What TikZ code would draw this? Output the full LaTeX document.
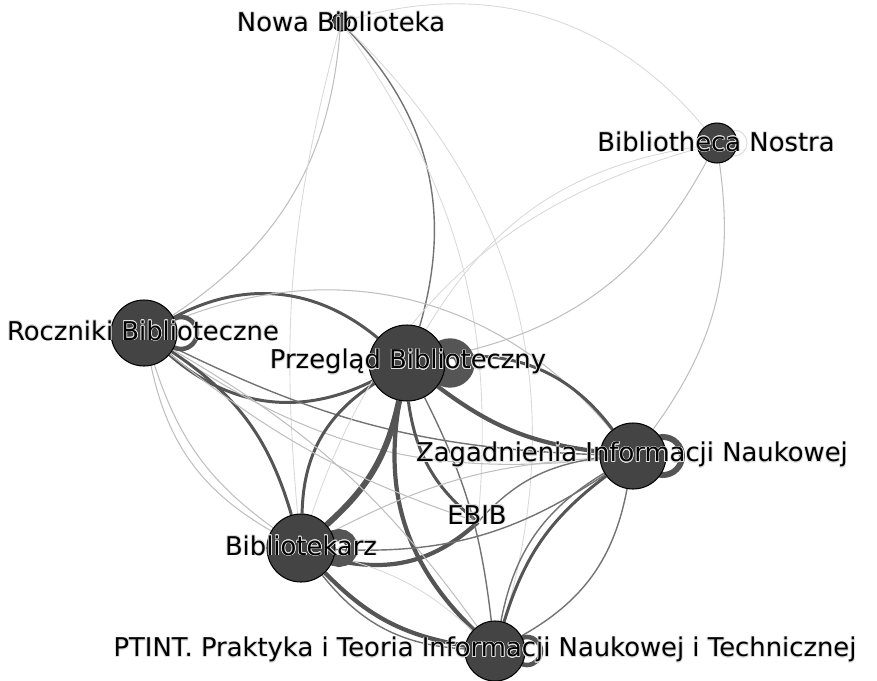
\documentclass[tikz,border=0pt]{standalone}
\usepackage{fontspec}
\setmainfont{DejaVu Sans}
\usepackage{contour}
\contourlength{0.2pt}
\definecolor{nodegray}{HTML}{444444}
\definecolor{edgegray}{HTML}{555555}
\pgfdeclarelayer{bg}
\pgfsetlayers{bg,main}
\tikzset{
  vertex/.style={circle, fill=nodegray, draw=black, line width=0.3pt, inner sep=0pt},
  lbl/.style={font=\fontsize{7.35}{8.5}\selectfont, inner sep=0pt, text=black},
  e1/.style={draw=gray!30, line width=0.25pt},
  e2/.style={draw=gray!50, line width=0.3pt},
  e3/.style={draw=black!55, line width=0.4pt},
  e4/.style={draw=edgegray, line width=0.85pt},
  e5/.style={draw=edgegray, line width=1.2pt},
  e6/.style={draw=edgegray, line width=1.7pt},
  loopring/.style={draw=edgegray}
}

\begin{document}
\begin{tikzpicture}
  \useasboundingbox (0,0) rectangle (8.77,6.80);
  % journals
  \node[vertex, minimum size=0.18cm] (nb) at (3.41,6.58) {};
  \node[vertex, minimum size=0.40cm] (bn) at (7.17,5.37) {};
  \node[vertex, minimum size=0.66cm] (rb) at (1.44,3.47) {};
  \node[vertex, minimum size=0.76cm] (pb) at (4.07,3.17) {};
  \node[vertex, minimum size=0.66cm] (zin) at (6.33,2.24) {};
  \coordinate (ebib) at (4.78,1.58);
  \node[vertex, minimum size=0.68cm] (bk) at (3.01,1.32) {};
  \node[vertex, minimum size=0.60cm] (pt) at (4.95,0.29) {};
  \begin{pgfonlayer}{bg}
    % citations between journals
    \foreach \a/\b/\w/\s in {nb/bn/33/e1, nb/pb/30/e3, nb/pt/31/e1, nb/rb/26/e2,
        bk/nb/10/e1, nb/ebib/20/e1, rb/pb/34/e4, pb/rb/34/e4, rb/zin/36/e2,
        zin/rb/20/e2, zin/rb/12/e3, pb/zin/30/e4, zin/pb/15/e5, pb/bk/18/e6,
        bk/pb/28/e4, ebib/bk/28/e5, ebib/pb/22/e4, pt/pb/28/e5, pb/pt/10/e3,
        pt/bk/18/e5, pt/bk/24/e3, bk/pt/14/e1, zin/pt/25/e3, pt/zin/18/e4,
        pt/zin/24/e3, rb/bk/20/e4, bk/rb/18/e2, bk/rb/24/e2, rb/pt/12/e2,
        ebib/rb/10/e2, bk/zin/12/e2, zin/bk/18/e3, ebib/zin/20/e3,
        bn/pb/25/e2, pb/bn/25/e1, bk/bn/28/e1, bn/zin/22/e2}
    {
      \draw[\s] (\a) to[bend left=\w] (\b);
    }
    % self citations
    \draw[e1] ([xshift=0.17cm]bn.center) circle [radius=0.13];
    \draw[loopring, line width=1.3pt] ([xshift=0.37cm]rb.center) circle [radius=0.16];
    \draw[loopring, line width=5.5pt] ([xshift=0.43cm]pb.center) circle [radius=0.15];
    \draw[loopring, line width=1.7pt] ([xshift=0.30cm]zin.center) circle [radius=0.19];
    \draw[loopring, line width=3.4pt] ([xshift=0.38cm]bk.center) circle [radius=0.13];
    \draw[loopring, line width=1.3pt] ([xshift=0.32cm]pt.center) circle [radius=0.14];
  \end{pgfonlayer}
  % names
  \node[lbl] (lnb) at (nb) {\contour{gray!25}{Nowa Biblioteka}};
  \node[lbl] (lbn) at (7.16,5.38) {\contour{gray!25}{Bibliotheca Nostra}};
  \node[lbl] (lrb) at (1.43,3.49) {\contour{gray!25}{Roczniki Biblioteczne}};
  \node[lbl] (lpb) at (4.08,3.18) {\contour{gray!25}{Przegląd Biblioteczny}};
  \node[lbl] (lzin) at (6.32,2.25) {\contour{gray!25}{Zagadnienia Informacji Naukowej}};
  \node[lbl] (lebib) at (4.77,1.65) {\contour{gray!25}{EBIB}};
  \node[lbl] (lbk) at (3.01,1.34) {\contour{gray!25}{Bibliotekarz}};
  \node[lbl] (lpt) at (4.85,0.30) {\contour{gray!25}{PTINT. Praktyka i Teoria Informacji Naukowej i Technicznej}};
\end{tikzpicture}
\end{document}
